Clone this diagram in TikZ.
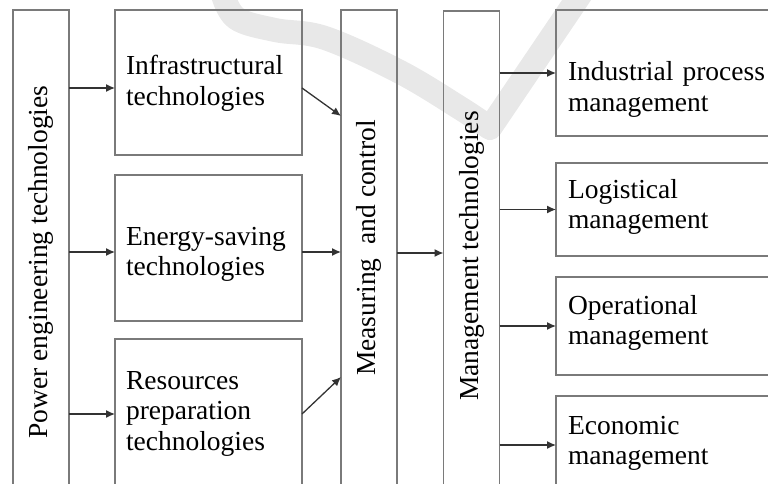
\documentclass[tikz,border=0pt]{standalone}
\usepackage{fontspec}
\setmainfont{Liberation Serif}
\newfontfamily\diagfont{Liberation Serif}
\usetikzlibrary{positioning,arrows.meta}
\definecolor{boxline}{HTML}{7A7A7A}
\definecolor{arrowline}{HTML}{333333}
\definecolor{watermark}{HTML}{E8E8E8}

\begin{document}
\begin{tikzpicture}[x=1pt,y=1pt,>={Latex[length=9pt,width=8pt]},
    font=\diagfont\fontsize{27.5}{30.5}\selectfont,
    tbox/.style={draw=boxline, line width=1.6pt, outer sep=0pt, inner ysep=0pt,
      inner xsep=11pt, text width=165pt, align=left, anchor=north},
    rbox/.style={tbox, inner xsep=12pt, text width=210pt},
    vbox/.style={draw=boxline, line width=1.6pt, outer sep=0pt, inner sep=0pt,
      rotate=90, minimum height=56pt},
    flow/.style={->, arrowline, line width=1.3pt}]

        \useasboundingbox (0,0) rectangle (768,-484);
        \clip (0,0) rectangle (768,-483);

        % watermark stroke behind the boxes
        \draw[watermark, line width=24pt, line join=round]
          plot[smooth, tension=0.6] coordinates {(222,8) (236,-18) (275,-30) (325,-38) (400,-72) (460,-108) (490,-128)}
          -- (582,8);

        \node[vbox, minimum width=504pt] (pwr) at (41,-262) {Power engineering technologies};

        \node[tbox, anchor=north west, text height=65pt, text depth=80pt] (inf) at (115,-10) {Infrastructural\\technologies};
        \node[tbox, text height=70pt, text depth=76pt] (ene) [below=20pt of inf] {Energy-saving\\technologies};
        \node[tbox, text height=50pt, text depth=100pt] (res) [below=18pt of ene] {Resources\\preparation\\technologies};

        \node[vbox, minimum width=476pt] (mea) at (369,-248) {Measuring\ \ and control};
        \node[vbox, minimum width=490pt] (mgt) at (471.5,-256) {Management technologies};

        \node[rbox, anchor=north west, text height=71pt, text depth=55pt] (ind) at (556,-10) {Industrial process\\management};
        \node[rbox, text height=35pt, text depth=58pt] (log) [below=27pt of ind] {Logistical\\management};
        \node[rbox, text height=37pt, text depth=61pt] (opr) [below=21pt of log] {Operational\\management};
        \node[rbox, text height=38pt, text depth=60pt] (eco) [below=21pt of opr] {Economic\\management};

        \coordinate (infin) at ([yshift=-5.5pt]inf.west);
        \coordinate (infout) at ([yshift=-5.5pt]inf.east);
        \coordinate (enein) at ([yshift=-4pt]ene.west);
        \coordinate (eneout) at ([yshift=-4pt]ene.east);
        \coordinate (meatop) at ([yshift=132pt]mea.north);
        \coordinate (meabot) at ([yshift=-129pt]mea.north);
        \coordinate (meaout) at ([yshift=-5pt]mea.south);

        \path[flow]
        (infin -| pwr.south) edge (infin)
        (enein -| pwr.south) edge (enein)
        (res.west -| pwr.south) edge (res.west)

        (infout) edge (meatop)
        (eneout) edge (eneout -| mea.north)
        (res.east) edge (meabot)

        (meaout) edge (meaout -| mgt.north)

        (ind.west -| mgt.south) edge (ind.west)
        (log.west -| mgt.south) edge (log.west)
        (opr.west -| mgt.south) edge (opr.west)
        (eco.west -| mgt.south) edge (eco.west)
        ;
\end{tikzpicture}
\end{document}
